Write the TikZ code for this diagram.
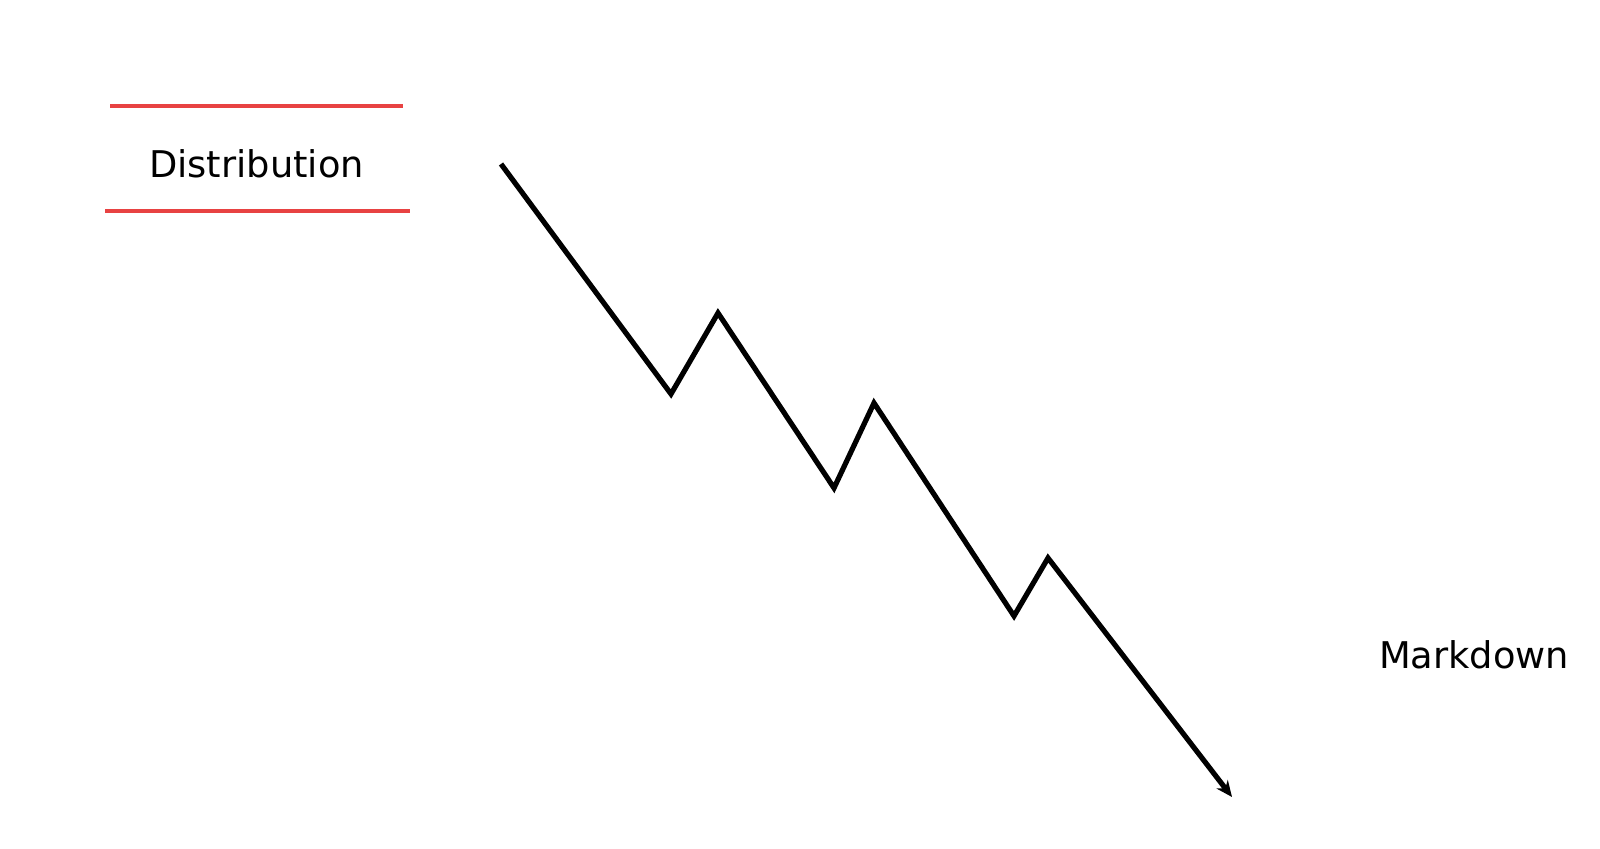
\documentclass[tikz,border=0pt]{standalone}
\usepackage{fontspec}
\setmainfont{DejaVu Sans}
\usepackage{xcolor}
\usetikzlibrary{positioning,arrows.meta}
\definecolor{markred}{RGB}{232,66,66}
\tikzset{
  phase/.style={font=\fontsize{18.4}{22}\selectfont, inner sep=0.75pt, anchor=base},
  bar/.style={draw=markred, line width=2.1pt},
  trend/.style={draw=black, line width=2.6pt},
}
\begin{document}
\begin{tikzpicture}[x=0.5pt,y=0.5pt,yscale=-1,xscale=1]
\useasboundingbox (0,0) rectangle (1600,849);

%Shape: red bars round the label
\coordinate (barTL) at (110,106);
\coordinate (barTR) at (403,106);
\coordinate (barBL) at (105,211);
\coordinate (barBR) at (410,211);
\draw [bar] (barTL) -- (barTR);
\draw [bar] (barBL) -- (barBR);

%Straight Lines: falling price
\coordinate (p0) at (501,164);
\coordinate (p1) at (671,394);
\coordinate (p2) at (718,313);
\coordinate (p3) at (834,488);
\coordinate (p4) at (874,403);
\coordinate (p5) at (1014,616);
\coordinate (p6) at (1048,558);
\coordinate (p7) at (1232,797);
\draw [trend, -{Stealth[length=8pt,width=7pt,inset=2.5pt]}] (p0) -- (p1) -- (p2) -- (p3) -- (p4) -- (p5) -- (p6) -- (p7);

% Text Node
\node [phase] (distribution) at (256.5,178) {Distribution};
% Text Node
\node [phase] (markdown) at (1474,668) {Markdown};

\end{tikzpicture}
\end{document}
